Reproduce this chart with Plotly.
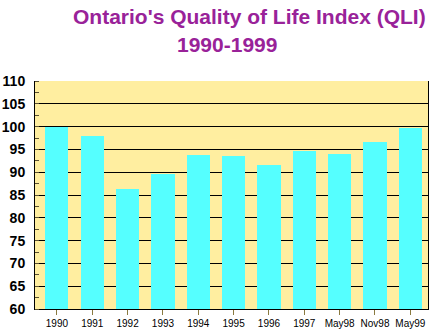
import plotly.graph_objects as go

# Ontario Quality of Life Index, 1990-1999
periods = ["1990", "1991", "1992", "1993", "1994", "1995", "1996", "1997",
           "May98", "Nov98", "May99"]
qli = [100.0, 98.0, 86.4, 89.7, 93.8, 93.6, 91.6, 94.7, 94.0, 96.7, 99.8]

y_ticks = [60, 65, 70, 75, 80, 85, 90, 95, 100, 105, 110]

title_color = "#992299"
plot_bg = "#FFEEA0"
bar_color = "#55FFFF"

fig = go.Figure(
    go.Bar(
        x=list(range(len(periods))),
        y=qli,
        width=0.655,
        marker=dict(color=bar_color, line=dict(width=0)),
        hoverinfo="skip",
    )
)

fig.update_layout(
    width=431,
    height=331,
    margin=dict(l=32, r=2, t=81, b=22),
    paper_bgcolor="white",
    plot_bgcolor=plot_bg,
    showlegend=False,
    bargap=0,
    font=dict(family="Arial, Liberation Sans, sans-serif", color="black"),
)

fig.update_xaxes(
    range=[-0.62, 10.5],
    tickmode="array",
    tickvals=list(range(len(periods))),
    ticktext=periods,
    tickson="boundaries",
    ticks="outside",
    ticklen=5,
    tickcolor="#8a7a40",
    tickwidth=1,
    tickfont=dict(size=10, color="black"),
    showgrid=False,
    showline=True,
    linecolor="black",
    linewidth=1,
    mirror=False,
    zeroline=False,
    fixedrange=True,
)

fig.update_yaxes(
    range=[60, 110],
    tickmode="array",
    tickvals=y_ticks,
    ticktext=[str(v) for v in y_ticks],
    ticks="",
    ticklabelstandoff=6,
    tickfont=dict(size=14, color="black", weight="bold",
                  family="Arial, Liberation Sans, sans-serif"),
    showgrid=True,
    gridcolor="black",
    gridwidth=1,
    showline=True,
    linecolor="black",
    linewidth=1,
    mirror=True,
    zeroline=False,
    minor=dict(
        tickmode="linear",
        tick0=60,
        dtick=2.5,
        ticks="inside",
        ticklen=4,
        tickcolor="#5a5030",
        tickwidth=1,
        showgrid=False,
    ),
    fixedrange=True,
)

# Two-line title, each line placed on its own
fig.add_annotation(
    text="<b>Ontario's Quality of Life Index (QLI)</b>",
    xref="paper", yref="paper",
    x=0.5466, y=1.285,
    xanchor="center", yanchor="middle",
    showarrow=False,
    font=dict(size=21, color=title_color, family="Arial, Liberation Sans, sans-serif"),
)
fig.add_annotation(
    text="<b>1990-1999</b>",
    xref="paper", yref="paper",
    x=0.4887, y=1.158,
    xanchor="center", yanchor="middle",
    showarrow=False,
    font=dict(size=21, color=title_color, family="Arial, Liberation Sans, sans-serif"),
)

fig.write_html("out.html", config={"displayModeBar": False})
